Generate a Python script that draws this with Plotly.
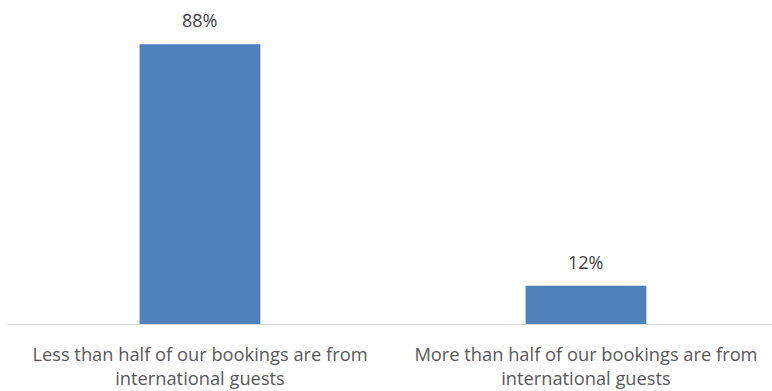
import plotly.graph_objects as go

categories = [
    "Less than half of our bookings are from<br>international guests",
    "More than half of our bookings are from<br>international guests",
]
values = [88, 12]
labels = ["88%", "12%"]

fig = go.Figure(
    go.Bar(
        x=[0, 1],
        y=values,
        width=0.313,
        marker=dict(color="#4F81BD", line=dict(width=0)),
        hoverinfo="skip",
    )
)

for i, (v, t) in enumerate(zip(values, labels)):
    fig.add_annotation(
        x=i, y=v, text=t, showarrow=False,
        yanchor="bottom", yshift=10,
        font=dict(family="Open Sans", size=18, color="#404040"),
    )

fig.update_layout(
    width=772, height=391,
    margin=dict(l=7, r=0, t=6, b=67),
    paper_bgcolor="white", plot_bgcolor="white",
    showlegend=False,
    xaxis=dict(
        range=[-0.5, 1.482],
        tickmode="array", tickvals=[0, 1], ticktext=categories,
        showgrid=False, zeroline=False,
        showline=True, linecolor="#D9D9D9", linewidth=1,
        ticks="", ticklen=0, ticklabelstandoff=14,
        tickfont=dict(family="Open Sans", size=18.3, color="#595959"),
    ),
    yaxis=dict(range=[0, 100], visible=False),
)

fig.write_html("out.html")
